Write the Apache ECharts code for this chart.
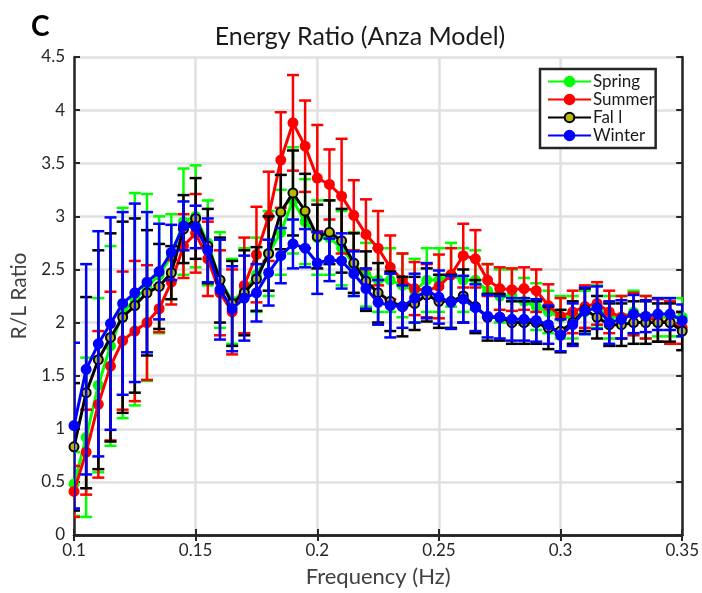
<!DOCTYPE html>
<html>
<head>
<meta charset="utf-8">
<script src="https://cdn.jsdelivr.net/npm/echarts@6/dist/echarts.min.js"></script>
<style>
  html, body { margin: 0; padding: 0; background: #fff; }
  #chart { width: 702px; height: 593px; }
</style>
</head>
<body>
<div id="chart"></div>
<script>
// frequency (Hz)
var freq = [0.1,0.105,0.11,0.115,0.12,0.125,0.13,0.135,0.14,0.145,0.15,0.155,0.16,0.165,0.17,0.175,0.18,0.185,0.19,0.195,0.2,0.205,0.21,0.215,0.22,0.225,0.23,0.235,0.24,0.245,0.25,0.255,0.26,0.265,0.27,0.275,0.28,0.285,0.29,0.295,0.3,0.305,0.31,0.315,0.32,0.325,0.33,0.335,0.34,0.345,0.35]

var springVal = [0.48,0.92,1.41,1.78,2.09,2.22,2.33,2.45,2.62,2.95,3.0,2.75,2.4,2.2,2.3,2.45,2.65,2.85,3.15,2.95,2.8,2.8,2.7,2.55,2.45,2.4,2.4,2.35,2.3,2.4,2.4,2.45,2.4,2.4,2.3,2.25,2.25,2.2,2.15,2.1,2.05,2.05,2.1,2.15,2.05,2.05,2.1,2.05,2.05,2.05,2.05]
var springErr = [0.3,0.75,0.82,0.94,0.99,1.0,0.88,0.55,0.4,0.5,0.48,0.4,0.45,0.4,0.4,0.35,0.4,0.4,0.5,0.4,0.35,0.35,0.35,0.3,0.3,0.3,0.3,0.3,0.3,0.3,0.3,0.3,0.3,0.28,0.25,0.25,0.25,0.22,0.22,0.2,0.2,0.2,0.2,0.2,0.2,0.2,0.2,0.2,0.18,0.18,0.18]

var summerVal = [0.41,0.78,1.23,1.59,1.83,1.92,2.0,2.13,2.38,2.72,2.84,2.6,2.28,2.1,2.35,2.64,3.0,3.53,3.88,3.66,3.36,3.3,3.19,3.01,2.83,2.7,2.52,2.4,2.32,2.3,2.34,2.45,2.63,2.6,2.4,2.32,2.31,2.32,2.3,2.16,2.06,2.1,2.15,2.18,2.1,2.05,2.08,2.05,2.02,2.0,1.95]
var summerErr = [0.24,0.4,0.69,0.7,0.65,0.66,0.54,0.22,0.21,0.3,0.37,0.35,0.4,0.4,0.45,0.45,0.42,0.45,0.45,0.43,0.5,0.33,0.54,0.33,0.33,0.35,0.3,0.25,0.25,0.25,0.3,0.25,0.3,0.27,0.15,0.2,0.2,0.2,0.2,0.2,0.17,0.2,0.2,0.2,0.2,0.2,0.2,0.2,0.2,0.2,0.15]

var fallVal = [0.83,1.34,1.65,1.86,2.05,2.16,2.28,2.34,2.47,2.88,2.98,2.72,2.4,2.18,2.28,2.41,2.65,3.04,3.22,3.05,2.81,2.85,2.77,2.56,2.39,2.28,2.2,2.15,2.18,2.26,2.2,2.2,2.25,2.15,2.05,2.05,2.0,2.0,2.0,1.95,1.92,2.0,2.12,2.05,1.98,1.98,2.0,2.0,2.0,2.0,1.92]
var fallErr = [0.6,0.9,1.03,0.98,0.9,0.82,0.59,0.4,0.25,0.32,0.38,0.35,0.4,0.4,0.4,0.3,0.35,0.35,0.4,0.35,0.3,0.3,0.3,0.28,0.28,0.28,0.28,0.28,0.25,0.25,0.25,0.25,0.25,0.25,0.22,0.22,0.2,0.2,0.2,0.2,0.2,0.2,0.2,0.2,0.2,0.2,0.2,0.2,0.18,0.18,0.18]

var winterVal = [1.03,1.56,1.8,1.99,2.18,2.28,2.38,2.48,2.66,2.91,2.9,2.68,2.31,2.13,2.23,2.28,2.47,2.63,2.74,2.7,2.56,2.59,2.58,2.46,2.32,2.19,2.16,2.15,2.23,2.3,2.24,2.19,2.22,2.14,2.06,2.05,2.03,2.03,2.02,1.98,1.88,1.98,2.11,2.14,2.0,2.03,2.08,2.06,2.08,2.08,2.02]
var winterErr = [0.78,0.99,1.06,1.0,0.86,0.84,0.66,0.45,0.26,0.23,0.2,0.3,0.47,0.4,0.4,0.27,0.31,0.26,0.23,0.18,0.29,0.2,0.26,0.21,0.19,0.21,0.3,0.2,0.23,0.26,0.25,0.25,0.22,0.22,0.2,0.2,0.2,0.2,0.2,0.18,0.15,0.2,0.22,0.2,0.2,0.18,0.18,0.15,0.15,0.15,0.15]

var seasonNames = ['Spring', 'Summer', 'Fal l', 'Winter']
var xTicks = [0.1, 0.15, 0.2, 0.25, 0.3, 0.35]
var yTicks = [0, 0.5, 1, 1.5, 2, 2.5, 3, 3.5, 4, 4.5]

var font = 'Lato, "Liberation Sans", sans-serif'
var axisColor = '#262626'

function errSeries(vals, errs, color, z) {
  return {
    type: 'custom',
    z: z,
    clip: true,
    encode: { x: 0, y: [1, 2] },
    data: freq.map(function (f, i) { return [f, vals[i] - errs[i], vals[i] + errs[i]] }),
    renderItem: function (params, api) {
      var top = api.coord([api.value(0), api.value(2)])
      var bot = api.coord([api.value(0), api.value(1)])
      var w = 6
      var st = { stroke: color, lineWidth: 2.5 }
      return {
        type: 'group',
        children: [
          { type: 'line', shape: { x1: top[0], y1: top[1], x2: bot[0], y2: bot[1] }, style: st },
          { type: 'line', shape: { x1: top[0] - w, y1: top[1], x2: top[0] + w, y2: top[1] }, style: st },
          { type: 'line', shape: { x1: bot[0] - w, y1: bot[1], x2: bot[0] + w, y2: bot[1] }, style: st }
        ]
      }
    }
  }
}

function lineSeries(name, vals, color, fill, z) {
  return {
    name: name,
    type: 'line',
    z: z,
    symbol: 'circle',
    symbolSize: 9,
    showSymbol: true,
    animation: false,
    lineStyle: { color: color, width: 3 },
    itemStyle: { color: fill, borderColor: color, borderWidth: 2 },
    data: freq.map(function (f, i) { return [f, vals[i]] })
  }
}

var chart = echarts.init(document.getElementById('chart'))

var series = [
  errSeries(springVal, springErr, '#00ff00', 2),
  lineSeries(seasonNames[0], springVal, '#00ff00', '#00ff00', 3),
  errSeries(summerVal, summerErr, '#ff0000', 4),
  lineSeries(seasonNames[1], summerVal, '#ff0000', '#ff0000', 5),
  errSeries(fallVal, fallErr, '#000000', 6),
  lineSeries(seasonNames[2], fallVal, '#000000', '#b8b800', 7),
  errSeries(winterVal, winterErr, '#0000ff', 8),
  lineSeries(seasonNames[3], winterVal, '#0000ff', '#0000ff', 9)
]

var baseX = {
  type: 'value', min: 0.1, max: 0.35, interval: 0.05,
  axisLine: { show: true, lineStyle: { color: axisColor, width: 2.5 } },
  axisTick: { show: true, inside: true, length: 6, lineStyle: { color: axisColor, width: 2 } },
  splitLine: { show: false }
}
var baseY = {
  type: 'value', min: 0, max: 4.5, interval: 0.5,
  axisLine: { show: true, lineStyle: { color: axisColor, width: 2.5 } },
  axisTick: { show: true, inside: true, length: 6, lineStyle: { color: axisColor, width: 2 } },
  splitLine: { show: false }
}

var option = {
  animation: false,
  backgroundColor: '#ffffff',
  textStyle: { fontFamily: font },
  title: [
    {
      text: 'Energy Ratio (Anza Model)',
      left: 355, top: 19, textAlign: 'center',
      textStyle: { fontFamily: font, fontSize: 25, fontWeight: 'normal', color: '#1a1a1a' }
    },
    {
      text: 'C',
      left: 26, top: 8,
      textStyle: { fontFamily: font, fontSize: 28, fontWeight: 'bold', color: '#000' }
    }
  ],
  legend: {
    data: seasonNames,
    orient: 'vertical',
    left: 540, top: 69,
    padding: [4, 1, 4, 7],
    itemWidth: 43, itemHeight: 12, itemGap: 1,
    backgroundColor: '#fff',
    borderColor: axisColor, borderWidth: 2.5, borderRadius: 0,
    textStyle: { fontFamily: font, fontSize: 17, color: '#1a1a1a', padding: [0, 0, 0, -3] }
  },
  grid: { left: 74, right: 18, top: 57, bottom: 56 },
  xAxis: [
    Object.assign({}, baseX, {
      name: 'Frequency (Hz)', nameLocation: 'middle', nameGap: 31,
      nameTextStyle: { fontFamily: font, fontSize: 22, color: '#404040' },
      axisLabel: {
        fontFamily: font, fontSize: 17, color: axisColor, margin: 7,
        formatter: function (v) { return xTicks.indexOf(+v.toFixed(3)) >= 0 ? String(+v.toFixed(3)) : '' }
      },
      splitLine: { show: true, lineStyle: { color: '#e0e0e0', width: 2.5 } }
    }),
    Object.assign({}, baseX, { position: 'top', axisLabel: { show: false } })
  ],
  yAxis: [
    Object.assign({}, baseY, {
      name: 'R/L Ratio', nameLocation: 'middle', nameGap: 44,
      nameTextStyle: { fontFamily: font, fontSize: 21, color: '#404040' },
      axisLabel: {
        fontFamily: font, fontSize: 17, color: axisColor, margin: 9,
        formatter: function (v) { return yTicks.indexOf(+v.toFixed(2)) >= 0 ? String(+v.toFixed(2)) : '' }
      },
      splitLine: { show: true, lineStyle: { color: '#e0e0e0', width: 2.5 } }
    }),
    Object.assign({}, baseY, { position: 'right', axisLabel: { show: false } })
  ],
  series: series
}

chart.setOption(option)
</script>
</body>
</html>
